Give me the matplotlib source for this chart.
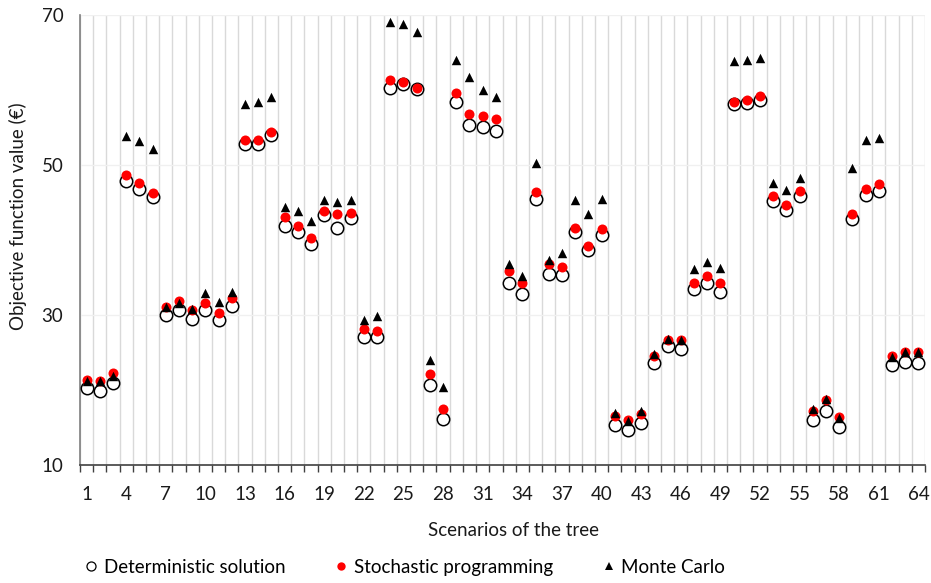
import numpy as np
import matplotlib.pyplot as plt
from matplotlib.lines import Line2D

scenarios = np.arange(1, 65)

deterministic = [
    20.2, 19.9, 20.9, 47.8, 46.8, 45.7, 30.0, 30.7, 29.5, 30.6, 29.3, 31.2,
    52.8, 52.8, 54.0, 41.9, 41.0, 39.4, 43.3, 41.6, 42.9, 27.0, 27.0, 60.2,
    60.8, 60.1, 20.6, 16.1, 58.4, 55.3, 55.0, 54.5, 34.3, 32.8, 45.5, 35.5,
    35.3, 41.0, 38.6, 40.7, 15.3, 14.7, 15.6, 23.6, 25.8, 25.4, 33.4, 34.3,
    33.1, 58.1, 58.2, 58.6, 45.2, 44.0, 45.8, 16.0, 17.2, 15.1, 42.8, 46.0,
    46.5, 23.3, 23.7, 23.6,
]
stochastic = [
    21.3, 21.2, 22.2, 48.6, 47.6, 46.3, 31.1, 31.9, 30.7, 31.6, 30.3, 32.2,
    53.3, 53.3, 54.4, 43.0, 41.9, 40.3, 43.9, 43.4, 43.6, 28.1, 27.8, 61.3,
    61.0, 60.3, 22.1, 17.4, 59.6, 56.8, 56.5, 56.1, 35.8, 34.3, 46.4, 36.8,
    36.4, 41.6, 39.2, 41.4, 16.5, 16.0, 16.8, 24.5, 26.7, 26.6, 34.3, 35.2,
    34.2, 58.4, 58.7, 59.2, 45.9, 44.7, 46.5, 17.2, 18.7, 16.4, 43.5, 46.8,
    47.5, 24.5, 25.0, 25.1,
]
monte_carlo = [
    21.2, 21.2, 21.8, 53.9, 53.2, 52.1, 31.0, 31.6, 30.8, 32.9, 31.7, 33.1,
    58.1, 58.4, 59.0, 44.4, 43.8, 42.5, 45.3, 45.0, 45.3, 29.3, 29.9, 69.0,
    68.8, 67.7, 24.0, 20.4, 64.0, 61.7, 60.0, 59.1, 36.8, 35.2, 50.2, 37.3,
    38.2, 45.3, 43.5, 45.5, 16.9, 15.9, 17.2, 24.8, 26.8, 26.7, 36.1, 37.1,
    36.2, 63.9, 64.0, 64.3, 47.6, 46.6, 48.2, 17.4, 18.8, 16.3, 49.6, 53.3,
    53.6, 24.4, 25.1, 25.1,
]

plt.rcParams['font.family'] = ['Lato', 'DejaVu Sans']
FS = 13.5
TXT = '#1a1a1a'

fig = plt.figure(figsize=(9.31, 5.83), dpi=100)
ax = fig.add_axes([0.0859, 0.2024, 0.9077, 0.7719])

ax.scatter(scenarios, deterministic, s=80, facecolor='white',
           edgecolor='black', linewidth=1.1, zorder=3)
ax.scatter(scenarios, stochastic, s=52, color='#ff0000', linewidth=0, zorder=4)
ax.scatter(scenarios, monte_carlo, s=46, marker='^', color='black',
           linewidth=0, zorder=5)

ax.set_xlim(0.5, 64.5)
ax.set_ylim(10, 70)
ax.set_yticks([10, 30, 50, 70])

# category boundaries carry the gridlines and tick marks, labels every 3rd
ax.set_xticks(np.arange(0.5, 65, 1))
ax.set_xticklabels([])
ax.set_xticks(scenarios[::3], minor=True)
ax.set_xticklabels([str(v) for v in scenarios[::3]], minor=True)
ax.tick_params(axis='x', which='major', length=5, width=1, color='#404040',
               direction='out')
ax.tick_params(axis='x', which='minor', length=0, pad=15, labelsize=FS,
               labelcolor=TXT)
ax.tick_params(axis='y', length=0, pad=12, labelsize=FS, labelcolor=TXT)

ax.grid(axis='x', which='major', color='#d9d9d9', linewidth=1)
ax.grid(axis='y', color='#f0f0f0', linewidth=1)
ax.set_axisbelow(True)

for side in ('top', 'right'):
    ax.spines[side].set_visible(False)
ax.spines['left'].set_color('#7f7f7f')
ax.spines['left'].set_linewidth(1.2)
ax.spines['bottom'].set_color('#404040')
ax.spines['bottom'].set_linewidth(1.2)

ax.set_xlabel('Scenarios of the tree', fontsize=FS, color=TXT)
ax.xaxis.set_label_coords(0.513, -0.127)
ax.set_ylabel('Objective function value (€)', fontsize=FS, color=TXT)
ax.yaxis.set_label_coords(-0.063, 0.553)

handles = [
    Line2D([], [], linestyle='none', marker='o', markersize=6.5,
           markerfacecolor='white', markeredgecolor='black',
           markeredgewidth=0.9),
    Line2D([], [], linestyle='none', marker='o', markersize=6,
           markerfacecolor='#ff0000', markeredgewidth=0),
    Line2D([], [], linestyle='none', marker='^', markersize=6,
           markerfacecolor='black', markeredgewidth=0),
]
fig.legend(handles, ['Deterministic solution', 'Stochastic programming',
                     'Monte Carlo'],
           loc='center left', bbox_to_anchor=(0.078, 0.027), ncol=3,
           frameon=False, fontsize=FS, handletextpad=0.15,
           columnspacing=2.5, handlelength=1.0, borderpad=0)

fig.savefig('out.png', dpi=100)
